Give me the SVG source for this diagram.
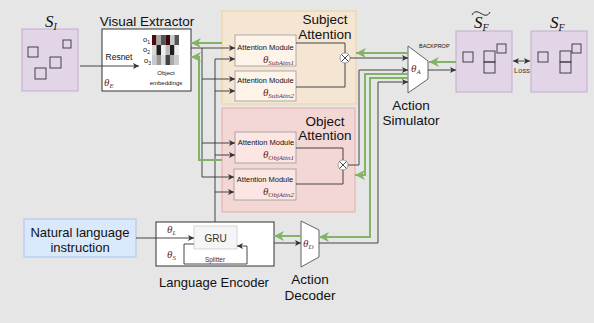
<svg xmlns="http://www.w3.org/2000/svg" width="594" height="323" viewBox="0 0 594 323">
<defs>
<marker id="ab" markerUnits="userSpaceOnUse" markerWidth="6" markerHeight="6" refX="6" refY="3" orient="auto"><path d="M0,0 L6,3 L0,6 L1.5,3 z" fill="#333"/></marker>
<marker id="abs" markerUnits="userSpaceOnUse" markerWidth="6" markerHeight="6" refX="0" refY="3" orient="auto"><path d="M6,0 L0,3 L6,6 L4.5,3 z" fill="#333"/></marker>
<marker id="ag" markerUnits="userSpaceOnUse" markerWidth="11" markerHeight="10" refX="10" refY="5" orient="auto"><path d="M0,0 L10,5 L0,10 L3,5 z" fill="#82b366"/></marker>
<style>
.t{font-family:"Liberation Sans",Arial,sans-serif;fill:#111}
.th{font-family:"Liberation Serif","Times New Roman",serif;font-style:italic;fill:#6b1f1f}
.s{font-family:"Liberation Serif","Times New Roman",serif;font-style:italic;fill:#111}
.st{fill:#e1d5e7;stroke:#c3abd0;stroke-width:1}
.sq{fill:none;stroke:#333;stroke-width:0.9}
.am1{fill:#fdf3e8;stroke:#999;stroke-width:0.8}
.am2{fill:#fbe6e4;stroke:#999;stroke-width:0.8}
.bl{fill:none;stroke:#333;stroke-width:0.9}
.gr{fill:none;stroke:#82b366;stroke-width:2}
.ot{fill:#fff;stroke:#999;stroke-width:0.9}
</style>
</defs>
<rect x="0" y="0" width="594" height="323" fill="#e6e6e6"/>

<g id="panel-subject">
<rect x="222" y="11" width="134" height="93" fill="#f5e5d3" stroke="#ecd29b" stroke-width="1"/>
<text class="t" x="325" y="24" font-size="13.5" text-anchor="middle">Subject</text>
<text class="t" x="325" y="39" font-size="13.5" text-anchor="middle">Attention</text>
</g>
<g id="panel-object">
<rect x="222" y="108" width="133" height="104" fill="#f2d7d4" stroke="#e3aaa8" stroke-width="1"/>
<text class="t" x="325" y="126" font-size="13.5" text-anchor="middle">Object</text>
<text class="t" x="325" y="140" font-size="13.5" text-anchor="middle">Attention</text>
</g>

<g id="s-initial">
<rect class="st" x="22" y="29" width="56" height="62"/>
<rect class="sq" x="28" y="47" width="10" height="10"/>
<rect class="sq" x="63" y="40" width="8" height="8"/>
<rect class="sq" x="50" y="57" width="11" height="11"/>
<rect class="sq" x="35" y="68" width="11" height="11"/>
<text class="s" x="45" y="27" font-size="17">S<tspan font-size="10" dy="3">I</tspan></text>
</g>

<g id="visual-extractor">
<rect x="102" y="29" width="89" height="62" fill="#fff" stroke="#333" stroke-width="1"/>
<text class="t" x="147" y="26" font-size="13.5" text-anchor="middle">Visual Extractor</text>
<text class="t" x="119" y="60" font-size="8.5" text-anchor="middle">Resnet</text>
<text class="th" x="104" y="86" font-size="11">θ<tspan font-size="7" dy="2">E</tspan></text>
<text class="t" x="143" y="42" font-size="7.5">o<tspan font-size="5" dy="1.5">1</tspan></text>
<text class="t" x="143" y="52" font-size="7.5">o<tspan font-size="5" dy="1.5">2</tspan></text>
<text class="t" x="144" y="63" font-size="7.5">o<tspan font-size="5" dy="1.5">3</tspan></text>
<g stroke="none">
<rect x="152" y="35" width="4.5" height="10" fill="#4a0b0b"/>
<rect x="156.5" y="35" width="4.5" height="10" fill="#a8a8a8"/>
<rect x="161" y="35" width="4.5" height="10" fill="#555"/>
<rect x="165.5" y="35" width="4.5" height="10" fill="#3d0808"/>
<rect x="170" y="35" width="4.5" height="10" fill="#c8c8c8"/>
<rect x="174.5" y="35" width="4.5" height="10" fill="#555"/>
<rect x="152" y="45" width="4.5" height="10" fill="#d8d8d8"/>
<rect x="156.5" y="45" width="4.5" height="10" fill="#1e1e1e"/>
<rect x="161" y="45" width="4.5" height="10" fill="#eee"/>
<rect x="165.5" y="45" width="4.5" height="10" fill="#bbb"/>
<rect x="170" y="45" width="4.5" height="10" fill="#1e1e1e"/>
<rect x="174.5" y="45" width="4.5" height="10" fill="#eee"/>
<rect x="152" y="55" width="4.5" height="10" fill="#c8c8c8"/>
<rect x="156.5" y="55" width="4.5" height="10" fill="#999"/>
<rect x="161" y="55" width="4.5" height="10" fill="#ddd"/>
<rect x="165.5" y="55" width="4.5" height="10" fill="#444"/>
<rect x="170" y="55" width="4.5" height="10" fill="#aaa"/>
<rect x="174.5" y="55" width="4.5" height="10" fill="#ccc"/>
</g>
<text class="t" x="166" y="75" font-size="6" text-anchor="middle">Object</text>
<text class="t" x="166" y="85" font-size="6" text-anchor="middle">embeddings</text>
</g>

<g id="sub-attn-1">
<rect class="am1" x="235" y="35" width="61" height="31"/>
<text class="t" x="265.5" y="50" font-size="7.5" text-anchor="middle">Attention Module</text>
<text class="th" x="294" y="63" font-size="11" text-anchor="end">θ<tspan font-size="7" dy="2">SubAttn1</tspan></text>
</g>
<g id="sub-attn-2">
<rect class="am1" x="235" y="71" width="61" height="30"/>
<text class="t" x="265.5" y="82.5" font-size="7.5" text-anchor="middle">Attention Module</text>
<text class="th" x="294" y="96" font-size="11" text-anchor="end">θ<tspan font-size="7" dy="2">SubAttn2</tspan></text>
</g>
<g id="obj-attn-1">
<rect class="am2" x="235" y="132" width="61" height="31"/>
<text class="t" x="266" y="145" font-size="7.5" text-anchor="middle">Attention Module</text>
<text class="th" x="294" y="158" font-size="11" text-anchor="end">θ<tspan font-size="7" dy="2">ObjAttn1</tspan></text>
</g>
<g id="obj-attn-2">
<rect class="am2" x="234" y="169" width="62" height="31"/>
<text class="t" x="265" y="181.5" font-size="7.5" text-anchor="middle">Attention Module</text>
<text class="th" x="294" y="195" font-size="11" text-anchor="end">θ<tspan font-size="7" dy="2">ObjAttn2</tspan></text>
</g>

<g id="sub-combine">
<circle class="ot" cx="345" cy="58" r="5"/>
<path class="bl" d="M341.5,54.5 L348.5,61.5 M348.5,54.5 L341.5,61.5" stroke="#999"/>
</g>
<g id="obj-combine">
<circle class="ot" cx="343" cy="165" r="5"/>
<path class="bl" d="M339.5,161.5 L346.5,168.5 M346.5,161.5 L339.5,168.5" stroke="#999"/>
</g>

<g id="action-simulator">
<path d="M408,46 L428,61 L428,79 L408,93 Z" fill="#fff" stroke="#555" stroke-width="0.9"/>
<text class="th" x="411" y="72" font-size="11">θ<tspan font-size="7" dy="2">A</tspan></text>
<text class="t" x="411" y="110" font-size="13.5" text-anchor="middle">Action</text>
<text class="t" x="411" y="125" font-size="13.5" text-anchor="middle">Simulator</text>
<text class="t" x="419" y="48" font-size="5.5">BACKPROP</text>
</g>

<g id="s-final-pred">
<rect class="st" x="456" y="31" width="56" height="61"/>
<rect class="sq" x="463" y="52" width="10" height="10"/>
<rect class="sq" x="484" y="51" width="11" height="11"/>
<rect class="sq" x="484" y="62" width="11" height="11"/>
<rect class="sq" x="497" y="44" width="9" height="9"/>
<text class="s" x="474" y="28" font-size="17">S<tspan font-size="10" dy="3">F</tspan></text>
<path d="M472,15 C474,11 477,11 481,13.5 C485,16 488,16 490,12" fill="none" stroke="#111" stroke-width="0.9"/>
</g>
<g id="s-final">
<rect class="st" x="531" y="31" width="56" height="61"/>
<rect class="sq" x="538" y="52" width="10" height="10"/>
<rect class="sq" x="560" y="51" width="11" height="11"/>
<rect class="sq" x="560" y="62" width="11" height="11"/>
<rect class="sq" x="572" y="44" width="9" height="9"/>
<text class="s" x="550" y="28" font-size="17">S<tspan font-size="10" dy="3">F</tspan></text>
</g>
<text class="t" x="522" y="73" font-size="7.5" text-anchor="middle" style="fill:#6b1f1f">Loss</text>

<g id="natural-language">
<rect x="24" y="219" width="112" height="38" fill="#dae8fc" stroke="#a9c4eb" stroke-width="1"/>
<text class="t" x="80" y="236.5" font-size="13" text-anchor="middle">Natural language</text>
<text class="t" x="80" y="251.5" font-size="13" text-anchor="middle">instruction</text>
</g>

<g id="language-encoder">
<rect x="156" y="222" width="118" height="44" fill="#fff" stroke="#333" stroke-width="1"/>
<rect x="194" y="226" width="43" height="23" fill="#f5f5f5" stroke="#ccc" stroke-width="0.8"/>
<text class="t" x="215.5" y="241.5" font-size="10" text-anchor="middle" style="fill:#333">GRU</text>
<text class="t" x="215" y="261.5" font-size="6.5" text-anchor="middle" style="fill:#5a1a1a">Splitter</text>
<text class="th" x="167" y="233" font-size="11">θ<tspan font-size="7" dy="2">L</tspan></text>
<text class="th" x="167" y="258" font-size="11">θ<tspan font-size="7" dy="2">S</tspan></text>
<text class="t" x="214" y="287" font-size="13" text-anchor="middle">Language Encoder</text>
</g>

<g id="action-decoder">
<path d="M301,221 L319,230 L319,257 L301,267 Z" fill="#fff" stroke="#555" stroke-width="0.9"/>
<text class="th" x="303" y="247" font-size="11">θ<tspan font-size="7" dy="2">D</tspan></text>
<text class="t" x="310" y="284" font-size="13.5" text-anchor="middle">Action</text>
<text class="t" x="310" y="300" font-size="13.5" text-anchor="middle">Decoder</text>
</g>

<g id="connectors">
<path class="bl" d="M80,66 H139" marker-end="url(#ab)"/>
<path class="bl" d="M191,48 H235" marker-end="url(#ab)"/>
<path class="bl" d="M202,48 V177"/>
<path class="bl" d="M202,79 H235" marker-end="url(#ab)"/>
<path class="bl" d="M202,143 H235" marker-end="url(#ab)"/>
<path class="bl" d="M202,177 H234" marker-end="url(#ab)"/>
<path class="bl" d="M215,222 V59"/>
<path class="bl" d="M215,59 H235" marker-end="url(#ab)"/>
<path class="bl" d="M215,91 H235" marker-end="url(#ab)"/>
<path class="bl" d="M215,155 H235" marker-end="url(#ab)"/>
<path class="bl" d="M215,192 H234" marker-end="url(#ab)"/>
<path class="bl" d="M296,43 H345 V53" stroke="#777"/>
<path class="bl" d="M296,87 H345 V63" stroke="#777"/>
<path class="bl" d="M296,148 H343 V160" stroke="#777"/>
<path class="bl" d="M296,184 H343 V170" stroke="#777"/>
<path class="bl" d="M350,58 H408" marker-end="url(#ab)"/>
<path class="bl" d="M348,165 H359 V70 H408" marker-end="url(#ab)"/>
<path class="bl" d="M319,243 H378 V82 H408" marker-end="url(#ab)"/>
<path class="bl" d="M428,70 H456" marker-end="url(#ab)"/>
<path class="bl" d="M513,61 H530" marker-start="url(#abs)" marker-end="url(#ab)"/>
<path class="bl" d="M136,238 H194" marker-end="url(#ab)"/>
<path class="bl" d="M194,244 H184 V264 H247 V246 H237" marker-end="url(#ab)"/>
<path class="bl" d="M274,243 H301" marker-end="url(#ab)"/>
<path class="gr" d="M456,62 H429" stroke-width="3" marker-end="url(#ag)"/>
<path class="gr" d="M408,53 H356" marker-end="url(#ag)"/>
<path class="gr" d="M408,74 H365 V175 H355" marker-end="url(#ag)"/>
<path class="gr" d="M408,78 H370 V237 H319" marker-end="url(#ag)"/>
<path class="gr" d="M301,236 H274" marker-end="url(#ag)"/>
<path class="gr" d="M222,43 H191" stroke-width="1.5" marker-end="url(#ag)"/>
<path class="gr" d="M222,160 H199 V57 H191" stroke-width="1.5" marker-end="url(#ag)"/>
</g>
</svg>
